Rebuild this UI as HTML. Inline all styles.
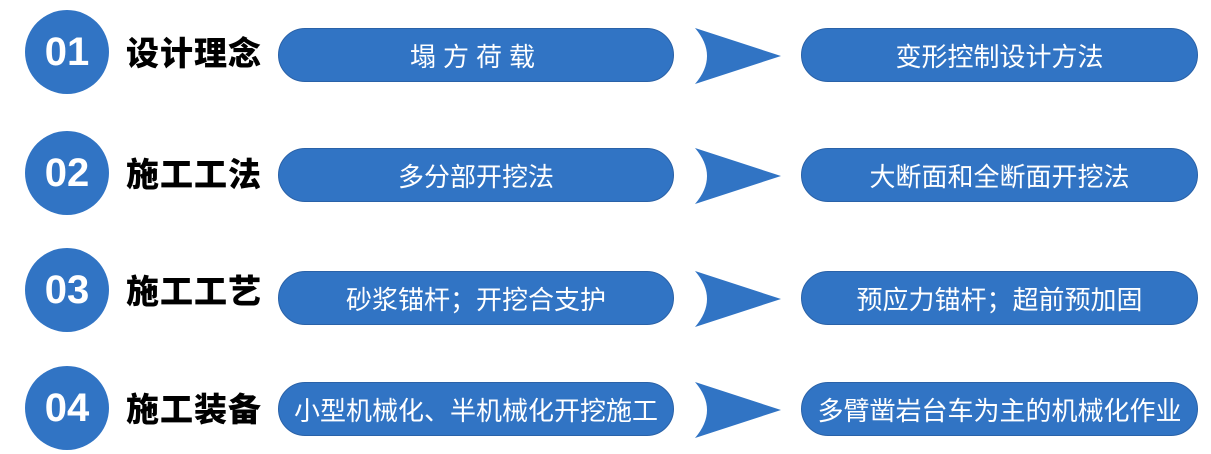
<!DOCTYPE html>
<html><head><meta charset="utf-8"><style>
body{margin:0;width:1211px;height:454px;background:#fff;position:relative;overflow:hidden;font-family:"Liberation Sans","Noto Sans CJK SC",sans-serif}
.c{position:absolute;left:25px;width:84px;height:84px;border-radius:50%;background:#3174c4;color:#fff;font-weight:bold;font-size:40px;display:flex;align-items:center;justify-content:center}
.t{position:absolute;left:126px;font-size:33px;font-weight:900;color:#000;height:56px;line-height:56px;letter-spacing:1px}
.p{position:absolute;height:54px;border-radius:27px;background:#3174c4;color:#fff;font-size:26px;display:flex;align-items:center;justify-content:center;border:1px solid #2a62a8;box-sizing:border-box;white-space:nowrap}
.l{left:278px;width:396px}.r{left:801px;width:397px}
svg{position:absolute;left:693px}
</style></head><body>
<div class="c" style="top:10px">01</div><div class="t" style="top:26px">设计理念</div>
<div class="p l" style="top:28px;letter-spacing:7px">塌方荷载</div>
<svg style="top:28px" width="90" height="56"><path d="M2,0 L88,28 L2,56 Q26,28 2,0Z" fill="#3174c4"/></svg>
<div class="p r" style="top:28px">变形控制设计方法</div>

<div class="c" style="top:131px">02</div><div class="t" style="top:147px">施工工法</div>
<div class="p l" style="top:148px">多分部开挖法</div>
<svg style="top:148px" width="90" height="56"><path d="M2,0 L88,28 L2,56 Q26,28 2,0Z" fill="#3174c4"/></svg>
<div class="p r" style="top:148px">大断面和全断面开挖法</div>

<div class="c" style="top:248px">03</div><div class="t" style="top:264px">施工工艺</div>
<div class="p l" style="top:271px">砂浆锚杆；开挖合支护</div>
<svg style="top:271px" width="90" height="56"><path d="M2,0 L88,28 L2,56 Q26,28 2,0Z" fill="#3174c4"/></svg>
<div class="p r" style="top:271px">预应力锚杆；超前预加固</div>

<div class="c" style="top:366px">04</div><div class="t" style="top:382px">施工装备</div>
<div class="p l" style="top:382px">小型机械化、半机械化开挖施工</div>
<svg style="top:382px" width="90" height="56"><path d="M2,0 L88,28 L2,56 Q26,28 2,0Z" fill="#3174c4"/></svg>
<div class="p r" style="top:382px">多臂凿岩台车为主的机械化作业</div>
</body></html>
